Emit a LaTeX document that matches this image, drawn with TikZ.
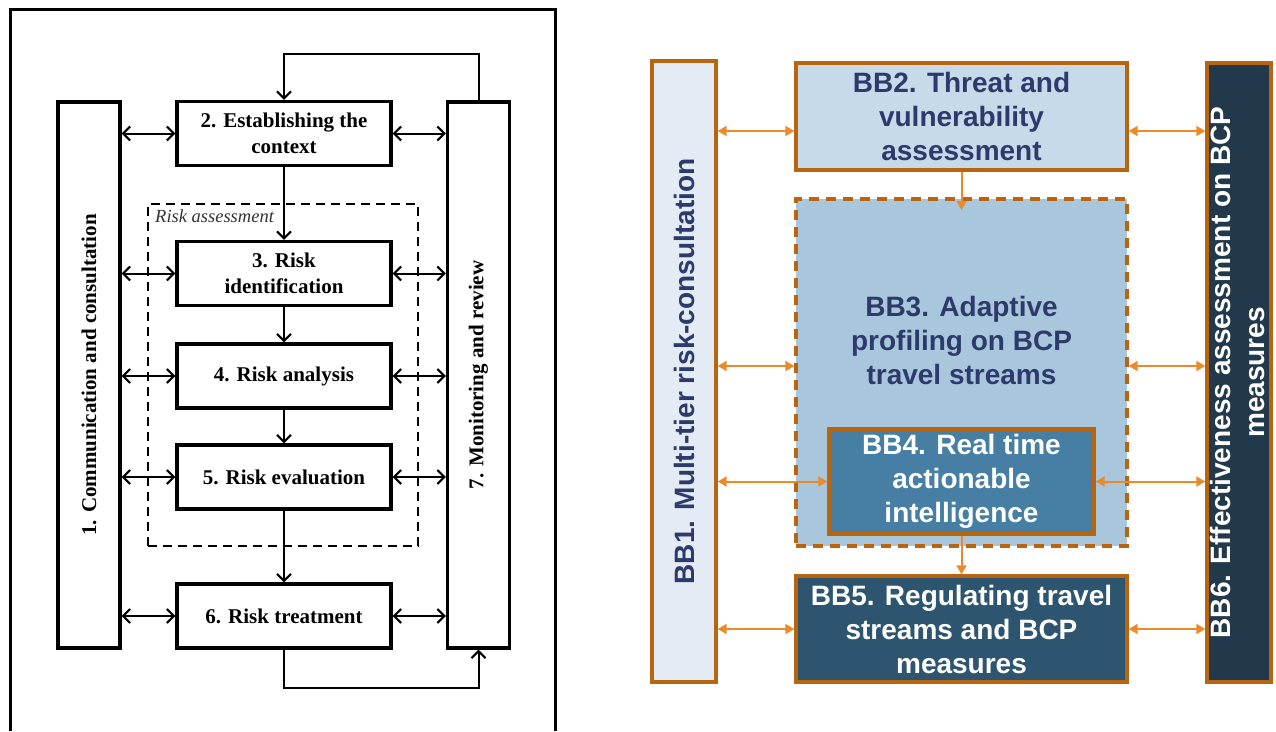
\documentclass[tikz,border=0pt]{standalone}
\usepackage{fontspec}
\setmainfont{Liberation Serif}
\newfontfamily\arialfont{Liberation Sans}
\usetikzlibrary{arrows.meta}

\definecolor{bborder}{HTML}{B9650F}
\definecolor{barrow}{HTML}{EB8A2A}
\definecolor{navytxt}{HTML}{2E3A6B}
\definecolor{bbone}{HTML}{E3ECF4}
\definecolor{bbtwo}{HTML}{C6DAE9}
\definecolor{bbthree}{HTML}{A8C7DC}
\definecolor{bbfour}{HTML}{467EA4}
\definecolor{bbfive}{HTML}{2D556F}
\definecolor{bbsix}{HTML}{21394A}

\tikzset{
  isobox/.style={draw, line width=3.4pt, fill=white, inner sep=0pt, align=center,
    font=\fontsize{21}{26}\selectfont\bfseries, minimum width=214pt, minimum height=64pt},
  sidebox/.style={draw, line width=3.4pt, fill=white, inner sep=0pt,
    minimum width=62pt, minimum height=546pt},
  sidetext/.style={rotate=90, font=\fontsize{21}{26}\selectfont\bfseries},
  barb/.tip={Straight Barb[length=7pt,width=14pt,line width=2pt]},
  flowarrow/.style={line width=2pt, -barb},
  twoway/.style={line width=2pt, barb-barb},
  bbbox/.style={draw=bborder, line width=3.4pt, inner sep=0pt, align=center,
    font=\arialfont\fontsize{28}{34}\selectfont\bfseries},
  bbtext/.style={align=center, font=\arialfont\fontsize{28}{34}\selectfont\bfseries},
  tri/.tip={Triangle[length=9pt,width=10pt]},
  orarrow/.style={draw=barrow, line width=2pt, -tri},
  ortwoway/.style={draw=barrow, line width=2pt, tri-tri},
}

\begin{document}
\begin{tikzpicture}[x=1pt,y=-1pt]
\useasboundingbox (0,0) rectangle (1276,731);

% ---------------- risk management process ----------------
\draw[line width=2.8pt] (10.5,731) -- (10.5,9.5) -- (555.5,9.5) -- (555.5,731);

\node[draw, line width=2.2pt, dash pattern=on 9pt off 6pt, minimum width=270pt,
      minimum height=342pt, inner sep=0pt] (ra) at (283,375) {};
\node[anchor=west, inner sep=0pt, font=\fontsize{18.5}{20}\selectfont\itshape,
      text=black!80] (ralabel) at (155,216) {Risk assessment};

\node[sidebox] (cc) at (89,375) {};
\node[sidetext] (cctext) at (cc.center) {1. Communication and consultation};
\node[sidebox] (mr) at (478.5,375) {};
\node[sidetext] (mrtext) at (mr.center) {7. Monitoring and review};

\node[isobox] (ctx) at (284,133.5) {2. Establishing the\\context};
\node[isobox] (rid) at (284,273.5) {3. Risk\\identification};
\node[isobox] (ran) at (284,376) {4. Risk analysis};
\node[isobox] (rev) at (284,477) {5. Risk evaluation};
\node[isobox] (rtr) at (284,616) {6. Risk treatment};

\draw[flowarrow] (ctx.south) -- (rid.north);
\draw[flowarrow] (rid.south) -- (ran.north);
\draw[flowarrow] (ran.south) -- (rev.north);
\draw[flowarrow] (rev.south) -- (rtr.north);

\foreach \b in {ctx,rid,ran,rev,rtr}{
  \draw[twoway] (cc.east |- \b.west) -- (\b.west);
  \draw[twoway] (\b.east) -- (mr.west |- \b.east);
}

\draw[flowarrow] (mr.north) -- ++(0,-46) -| (ctx.north);
\draw[flowarrow] (rtr.south) -- ++(0,38) -| (mr.south);

% ---------------- building blocks ----------------
\node[bbbox, fill=bbone, minimum width=64pt, minimum height=621pt] (bb1) at (684,371.5) {};
\node[bbtext, rotate=90, text=navytxt] (bb1text) at (bb1.center) {BB1. Multi-tier risk-consultation};

\node[bbbox, fill=bbsix, minimum width=64pt, minimum height=619pt] (bb6) at (1239,372.5) {};
\node[bbtext, rotate=90, text=white] (bb6text) at (1237,372.5) {BB6. Effectiveness assessment on BCP\\measures};

\node[bbbox, fill=bbtwo, text=navytxt, minimum width=331pt, minimum height=107pt] (bb2)
  at (961.5,116.5) {BB2. Threat and\\vulnerability\\assessment};

\node[bbbox, fill=bbthree, dash pattern=on 10pt off 7pt, minimum width=331pt,
      minimum height=347pt] (bb3) at (961.5,372.5) {};
\node[bbtext, text=navytxt] (bb3text) at (961.5,340) {BB3. Adaptive\\profiling on BCP\\travel streams};

\node[bbbox, fill=bbfour, text=white, minimum width=265pt, minimum height=105pt] (bb4)
  at (961.5,481.5) {BB4. Real time\\actionable\\intelligence};

\node[bbbox, fill=bbfive, text=white, minimum width=331pt, minimum height=106pt] (bb5)
  at (961.5,629) {BB5. Regulating travel\\streams and BCP\\measures};

\coordinate (lvl2) at (0,131);
\coordinate (lvl3) at (0,366);
\coordinate (tip3) at (0,210);

\draw[orarrow] (bb2.south) -- (bb2.south |- tip3);
\draw[orarrow] (bb4.south) -- (bb5.north);

\draw[ortwoway] (bb1.east |- lvl2) -- (bb2.west |- lvl2);
\draw[ortwoway] (bb2.east |- lvl2) -- (bb6.west |- lvl2);
\draw[ortwoway] (bb1.east |- lvl3) -- (bb3.west |- lvl3);
\draw[ortwoway] (bb3.east |- lvl3) -- (bb6.west |- lvl3);
\draw[ortwoway] (bb1.east |- bb4.west) -- (bb4.west);
\draw[ortwoway] (bb4.east) -- (bb6.west |- bb4.east);
\draw[ortwoway] (bb1.east |- bb5.west) -- (bb5.west);
\draw[ortwoway] (bb5.east) -- (bb6.west |- bb5.east);
\end{tikzpicture}
\end{document}
